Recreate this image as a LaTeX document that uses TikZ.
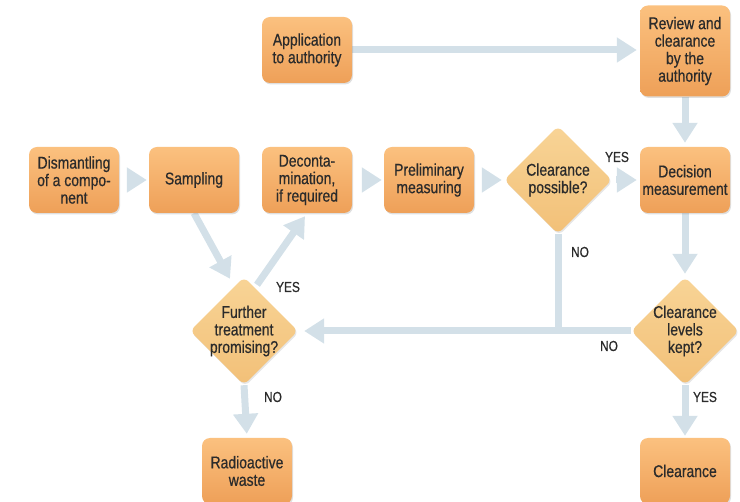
\documentclass[tikz,border=0pt]{standalone}
\usepackage{fontspec}
\setmainfont{Liberation Sans}[FakeStretch=0.82, FakeBold=0.6]
\usepackage{xcolor}
\usepackage{tikz}
\usetikzlibrary{arrows.meta,positioning,shapes.geometric,shadows,backgrounds,calc}

\definecolor{boxtop}{HTML}{FBC17F}
\definecolor{boxbot}{HTML}{EEA058}
\definecolor{dectop}{HTML}{F8D496}
\definecolor{decbot}{HTML}{F2C078}
\definecolor{arrblue}{HTML}{D3E0E8}
\definecolor{txt}{HTML}{2B2B2B}

\begin{document}
\begin{tikzpicture}[x=1pt, y=-1pt, font=\fontsize{17}{17.5}\selectfont, text=txt,
    box/.style={rectangle, rounded corners=8pt, minimum width=90pt, minimum height=66pt,
      align=center, inner sep=2pt, top color=boxtop, bottom color=boxbot, draw=none,
      drop shadow={opacity=0.25, shadow xshift=1pt, shadow yshift=-1.5pt}},
    query/.style={diamond, aspect=1, rounded corners=6pt, minimum width=108pt, minimum height=108pt,
      align=center, inner sep=-3.5pt, top color=dectop, bottom color=decbot, draw=none,
      drop shadow={opacity=0.2, shadow xshift=1pt, shadow yshift=-1.5pt}},
    arr/.style={draw=arrblue, line width=7pt, -{Triangle[width=24pt, length=20pt]}},
    lbl/.style={font=\fontsize{14.5}{15}\selectfont}]
\useasboundingbox (0,0) rectangle (740,502);
% pixel grid of the sheet: x right, y down
\node[box] (app) at (307,50) {Application\\to authority};
\node[box, minimum height=91pt] (rev) at (685,51) {Review and\\clearance\\by the\\authority};
\node[box] (dism) at (74,180) {Dismantling\\of a compo-\\nent};
\node[box] (samp) at (194,180) {Sampling};
\node[box] (decon) at (307,180) {Deconta-\\mination,\\if required};
\node[box] (prel) at (429,180) {Preliminary\\measuring};
\node[query] (cpos) at (558,180) {Clearance\\possible?};
\node[box] (dec) at (685,180) {Decision\\measurement};
\node[query] (furt) at (244,331) {Further\\treatment\\promising?};
\node[query] (clev) at (685,331) {Clearance\\levels\\kept?};
\node[box] (rad) at (247,471) {Radioactive\\waste};
\node[box] (clr) at (685,471) {Clearance};
\begin{scope}[on background layer]
\draw[arr, shorten <=8pt, shorten >=2pt] (dism.east) -- (samp.west);
\draw[arr, shorten <=10pt, shorten >=2pt] (decon.east) -- (prel.west);
\draw[arr, shorten <=10pt, shorten >=2pt] (prel.east) -- (cpos.west);
\draw[arr, shorten <=4pt, shorten >=3pt] (cpos.east) -- (dec.west);
\draw[arr, shorten >=3pt] (app.east) -- (app.east -| rev.west);
\draw[arr, shorten >=4pt] (rev.south) -- (dec.north);
\draw[arr, shorten >=3pt] (dec.south) -- (clev.north);
\draw[arr, shorten >=2pt] (clev.south) -- (clr.north);
\draw[arr, shorten >=4pt] (furt.south) -- (rad.north);
\draw[arr] (samp.south) -- ($(furt.north)+(-14,2)$);
\draw[arr] ($(furt.north)+(13,8)$) -- ($(decon.south)+(-2,3)$);
\draw[draw=arrblue, line width=7pt] (cpos.south) -- (cpos.south |- clev.west);
\draw[arr, shorten >=6pt] (clev.west) -- (furt.east);
\end{scope}
\node[lbl] (yes1) at (617,157) {YES};
\node[lbl] (no1) at (580,252) {NO};
\node[lbl] (yes2) at (288,287) {YES};
\node[lbl] (no2) at (273,397) {NO};
\node[lbl] (no3) at (609,346) {NO};
\node[lbl] (yes3) at (705,397) {YES};
\end{tikzpicture}
\end{document}
